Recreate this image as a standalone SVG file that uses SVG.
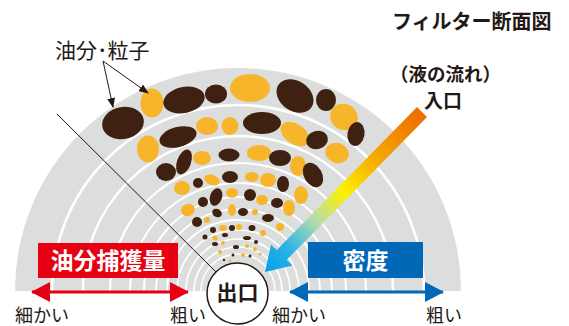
<svg xmlns="http://www.w3.org/2000/svg" width="569" height="326" viewBox="0 0 569 326">
  <defs>
    <style>
      .jp { font-family: "Noto Sans CJK JP", "Noto Sans", sans-serif; fill: #231815; }
      .b { font-weight: bold; }
      .w { fill: #ffffff; font-weight: bold; }
      .ring { fill: none; stroke: #ffffff; }
      .d { fill: #3e2110; }
      .o { fill: #f7b52c; }
      .thin { stroke: #231815; stroke-width: 1; fill: none; }
    </style>
    <linearGradient id="flowGrad" gradientUnits="userSpaceOnUse" x1="422" y1="112" x2="265" y2="272">
      <stop offset="0" stop-color="#ec6c00"/>
      <stop offset="0.3" stop-color="#f6ab00"/>
      <stop offset="0.5" stop-color="#fff100"/>
      <stop offset="0.68" stop-color="#b5dcae"/>
      <stop offset="0.85" stop-color="#2db3e3"/>
      <stop offset="1" stop-color="#00a0e9"/>
    </linearGradient>
    <marker id="headSmall" markerUnits="userSpaceOnUse" markerWidth="10" markerHeight="8" refX="9" refY="4" orient="auto">
      <path d="M0,0 L10,4 L0,8 Z" fill="#231815"/>
    </marker>
    <marker id="headRed" markerUnits="userSpaceOnUse" markerWidth="19" markerHeight="20" refX="18" refY="10" orient="auto-start-reverse">
      <path d="M0,0 L19,10 L0,20 Z" fill="#e60012"/>
    </marker>
    <marker id="headBlue" markerUnits="userSpaceOnUse" markerWidth="19" markerHeight="20" refX="18" refY="10" orient="auto-start-reverse">
      <path d="M0,0 L19,10 L0,20 Z" fill="#0068b7"/>
    </marker>
  </defs>

  <!-- filter cross-section body -->
  <g id="filter-section">
    <path d="M15,291 A223,223 0 0 1 461,291 Z" fill="#dcdddd"/>
    <g id="rings">
      <path class="ring" stroke-width="2.6" d="M52,291 A186,186 0 0 1 424,291"/>
      <path class="ring" stroke-width="2.4" d="M83,291 A155,155 0 0 1 393,291"/>
      <path class="ring" stroke-width="2.2" d="M110,291 A128,128 0 0 1 366,291"/>
      <path class="ring" stroke-width="2" d="M130,291 A108,108 0 0 1 346,291"/>
      <path class="ring" stroke-width="2" d="M144,291 A94,94 0 0 1 332,291"/>
      <path class="ring" stroke-width="1.8" d="M156,291 A82,82 0 0 1 320,291"/>
      <path class="ring" stroke-width="1.8" d="M167,291 A71,71 0 0 1 309,291"/>
      <path class="ring" stroke-width="1.6" d="M177,291 A61,61 0 0 1 299,291"/>
      <path class="ring" stroke-width="1.6" d="M186,291 A52,52 0 0 1 290,291"/>
      <path class="ring" stroke-width="1.5" d="M194,291 A44,44 0 0 1 282,291"/>
      <path class="ring" stroke-width="1.5" d="M201,291 A37,37 0 0 1 275,291"/>
    </g>
    <g id="particles">
      <!-- outer layer: coarse particles -->
      <ellipse class="d" cx="123" cy="123" rx="21" ry="16" transform="rotate(-10 123 123)"/>
      <ellipse class="o" cx="152" cy="103" rx="11.5" ry="14.5"/>
      <ellipse class="d" cx="184" cy="100" rx="21" ry="13" transform="rotate(-12 184 100)"/>
      <ellipse class="d" cx="216" cy="94" rx="11" ry="9.5"/>
      <ellipse class="o" cx="250" cy="88" rx="20" ry="14"/>
      <ellipse class="d" cx="295" cy="96" rx="20" ry="15" transform="rotate(35 295 96)"/>
      <ellipse class="d" cx="326" cy="100" rx="10" ry="11"/>
      <ellipse class="o" cx="344" cy="117" rx="14" ry="13" transform="rotate(30 344 117)"/>
      <ellipse class="d" cx="356" cy="134" rx="8.5" ry="12" transform="rotate(10 356 134)"/>
      <!-- layer 2 -->
      <ellipse class="o" cx="148" cy="149" rx="11" ry="13.5"/>
      <ellipse class="d" cx="178" cy="137" rx="19" ry="10" transform="rotate(-15 178 137)"/>
      <ellipse class="o" cx="207" cy="126" rx="11" ry="9"/>
      <ellipse class="o" cx="230" cy="126" rx="8.5" ry="9"/>
      <ellipse class="d" cx="262" cy="123" rx="19" ry="11"/>
      <ellipse class="o" cx="295" cy="134" rx="16" ry="10" transform="rotate(35 295 134)"/>
      <ellipse class="d" cx="317" cy="140" rx="11" ry="9" transform="rotate(-15 317 140)"/>
      <ellipse class="o" cx="337" cy="153" rx="12" ry="10" transform="rotate(20 337 153)"/>
      <!-- layer 3 -->
      <ellipse class="d" cx="166" cy="172" rx="10" ry="9"/>
      <ellipse class="d" cx="184" cy="162" rx="7" ry="13" transform="rotate(20 184 162)"/>
      <ellipse class="o" cx="202" cy="158" rx="9" ry="7"/>
      <ellipse class="d" cx="229" cy="155" rx="10.5" ry="6.5"/>
      <ellipse class="o" cx="259" cy="153" rx="12" ry="8"/>
      <ellipse class="d" cx="280" cy="158" rx="11" ry="8"/>
      <ellipse class="o" cx="298" cy="166" rx="8" ry="10"/>
      <ellipse class="d" cx="313" cy="175" rx="9" ry="13" transform="rotate(-30 313 175)"/>
      <!-- layer 4 -->
      <ellipse class="o" cx="182" cy="188" rx="8" ry="7"/>
      <ellipse class="d" cx="198" cy="183" rx="5" ry="5"/>
      <ellipse class="o" cx="212" cy="180" rx="8" ry="5" transform="rotate(20 212 180)"/>
      <ellipse class="d" cx="230" cy="177" rx="8" ry="6"/>
      <ellipse class="o" cx="252" cy="177" rx="7" ry="5"/>
      <ellipse class="o" cx="268" cy="180" rx="8" ry="7"/>
      <ellipse class="d" cx="283" cy="184" rx="6" ry="8"/>
      <ellipse class="o" cx="301" cy="195" rx="7" ry="9"/>
      <!-- layer 5 -->
      <ellipse class="o" cx="188" cy="210" rx="7" ry="6" transform="rotate(-20 188 210)"/>
      <ellipse class="d" cx="203" cy="202" rx="5" ry="5"/>
      <ellipse class="d" cx="216" cy="197" rx="6" ry="9" transform="rotate(20 216 197)"/>
      <ellipse class="o" cx="232" cy="193" rx="6" ry="5"/>
      <ellipse class="d" cx="250" cy="195" rx="6" ry="6"/>
      <ellipse class="o" cx="262" cy="200" rx="6" ry="5"/>
      <ellipse class="d" cx="277" cy="203" rx="6" ry="5"/>
      <ellipse class="o" cx="289" cy="208" rx="6" ry="8"/>
      <!-- layer 6 -->
      <ellipse class="d" cx="197" cy="222" rx="5" ry="5"/>
      <ellipse class="o" cx="207" cy="220" rx="3" ry="3"/>
      <ellipse class="d" cx="217" cy="213" rx="5" ry="4" transform="rotate(30 217 213)"/>
      <ellipse class="o" cx="232" cy="210" rx="4" ry="6"/>
      <ellipse class="d" cx="243" cy="212" rx="5" ry="4"/>
      <ellipse class="o" cx="255" cy="212" rx="3" ry="3"/>
      <ellipse class="d" cx="268" cy="218" rx="6" ry="4"/>
      <ellipse class="o" cx="280" cy="227" rx="4" ry="4"/>
      <!-- layer 7 -->
      <ellipse class="d" cx="213" cy="230" rx="3" ry="3"/>
      <ellipse class="o" cx="223" cy="228" rx="4" ry="3"/>
      <ellipse class="d" cx="232" cy="228" rx="3" ry="3"/>
      <ellipse class="o" cx="239" cy="227" rx="3" ry="3"/>
      <ellipse class="d" cx="252" cy="228" rx="3.5" ry="3"/>
      <ellipse class="o" cx="263" cy="233" rx="3" ry="3"/>
      <ellipse class="d" cx="205" cy="237" rx="2.5" ry="2.5"/>
      <ellipse class="o" cx="215" cy="238" rx="2.5" ry="2.5"/>
      <ellipse class="d" cx="225" cy="235" rx="3" ry="2"/>
      <ellipse class="d" cx="247" cy="238" rx="4" ry="2"/>
      <ellipse class="d" cx="256" cy="242" rx="2" ry="2"/>
      <!-- innermost fine particles -->
      <ellipse class="d" cx="215" cy="244" rx="3" ry="2"/>
      <ellipse class="o" cx="223" cy="243" rx="2" ry="2"/>
      <ellipse class="d" cx="236" cy="247" rx="3" ry="2"/>
      <ellipse class="o" cx="247" cy="246" rx="2" ry="2"/>
      <ellipse class="o" cx="255" cy="249" rx="2" ry="2"/>
      <ellipse class="o" cx="220" cy="252" rx="2" ry="2"/>
      <ellipse class="o" cx="243" cy="255" rx="2" ry="2"/>
      <ellipse class="d" cx="233" cy="255" rx="1.5" ry="1.5"/>
      <ellipse class="d" cx="250" cy="256" rx="1.5" ry="1.5"/>
      <ellipse class="o" cx="260" cy="254" rx="1.5" ry="1.5"/>
      <ellipse class="d" cx="224" cy="260" rx="1.2" ry="1.2"/>
      <ellipse class="o" cx="230" cy="261" rx="1.2" ry="1.2"/>
    </g>
  </g>

  <!-- connectors -->
  <g id="connectors">
    <line class="thin" x1="57" y1="114" x2="216" y2="272"/>
    <line class="thin" x1="103" y1="61" x2="113" y2="107" marker-end="url(#headSmall)"/>
    <line class="thin" x1="103" y1="61" x2="148" y2="93" marker-end="url(#headSmall)"/>
    <polygon id="flow-arrow" fill="url(#flowGrad)" points="417,107.1 427,116.9 286.8,259.8 292.5,265.4 265,272 271.1,244.4 276.8,250"/>
    <line x1="32" y1="292" x2="188" y2="292" stroke="#e60012" stroke-width="3.2" marker-start="url(#headRed)" marker-end="url(#headRed)"/>
    <line x1="290" y1="292" x2="443" y2="292" stroke="#0068b7" stroke-width="3.2" marker-start="url(#headBlue)" marker-end="url(#headBlue)"/>
  </g>

  <!-- labels -->
  <g id="title">
    <text class="jp b" x="392" y="29" font-size="20">フィルター断面図</text>
  </g>
  <g id="inlet">
    <text class="jp b" x="390" y="81" font-size="18.5">（液の流れ）</text>
    <text class="jp b" x="443" y="108" font-size="19" text-anchor="middle">入口</text>
  </g>
  <g id="particles-label">
    <text class="jp" x="55" y="58" font-size="21">油分･粒子</text>
  </g>
  <g id="capture-box">
    <rect x="38" y="243" width="140" height="35" fill="#e60012"/>
    <text class="jp w" x="108" y="269" font-size="23" text-anchor="middle">油分捕獲量</text>
  </g>
  <g id="density-box">
    <rect x="308" y="242" width="115" height="36" fill="#0068b7"/>
    <text class="jp w" x="365.5" y="269" font-size="23" text-anchor="middle">密度</text>
  </g>
  <g id="outlet">
    <circle cx="237.5" cy="293.5" r="30.5" fill="#ffffff" stroke="#231815" stroke-width="1.5"/>
    <text class="jp b" x="237.5" y="300" font-size="21" text-anchor="middle">出口</text>
  </g>
  <g id="scale-labels">
    <text class="jp" x="15" y="322" font-size="18">細かい</text>
    <text class="jp" x="170" y="322" font-size="18">粗い</text>
    <text class="jp" x="272" y="322" font-size="18">細かい</text>
    <text class="jp" x="426" y="322" font-size="18">粗い</text>
  </g>
</svg>
